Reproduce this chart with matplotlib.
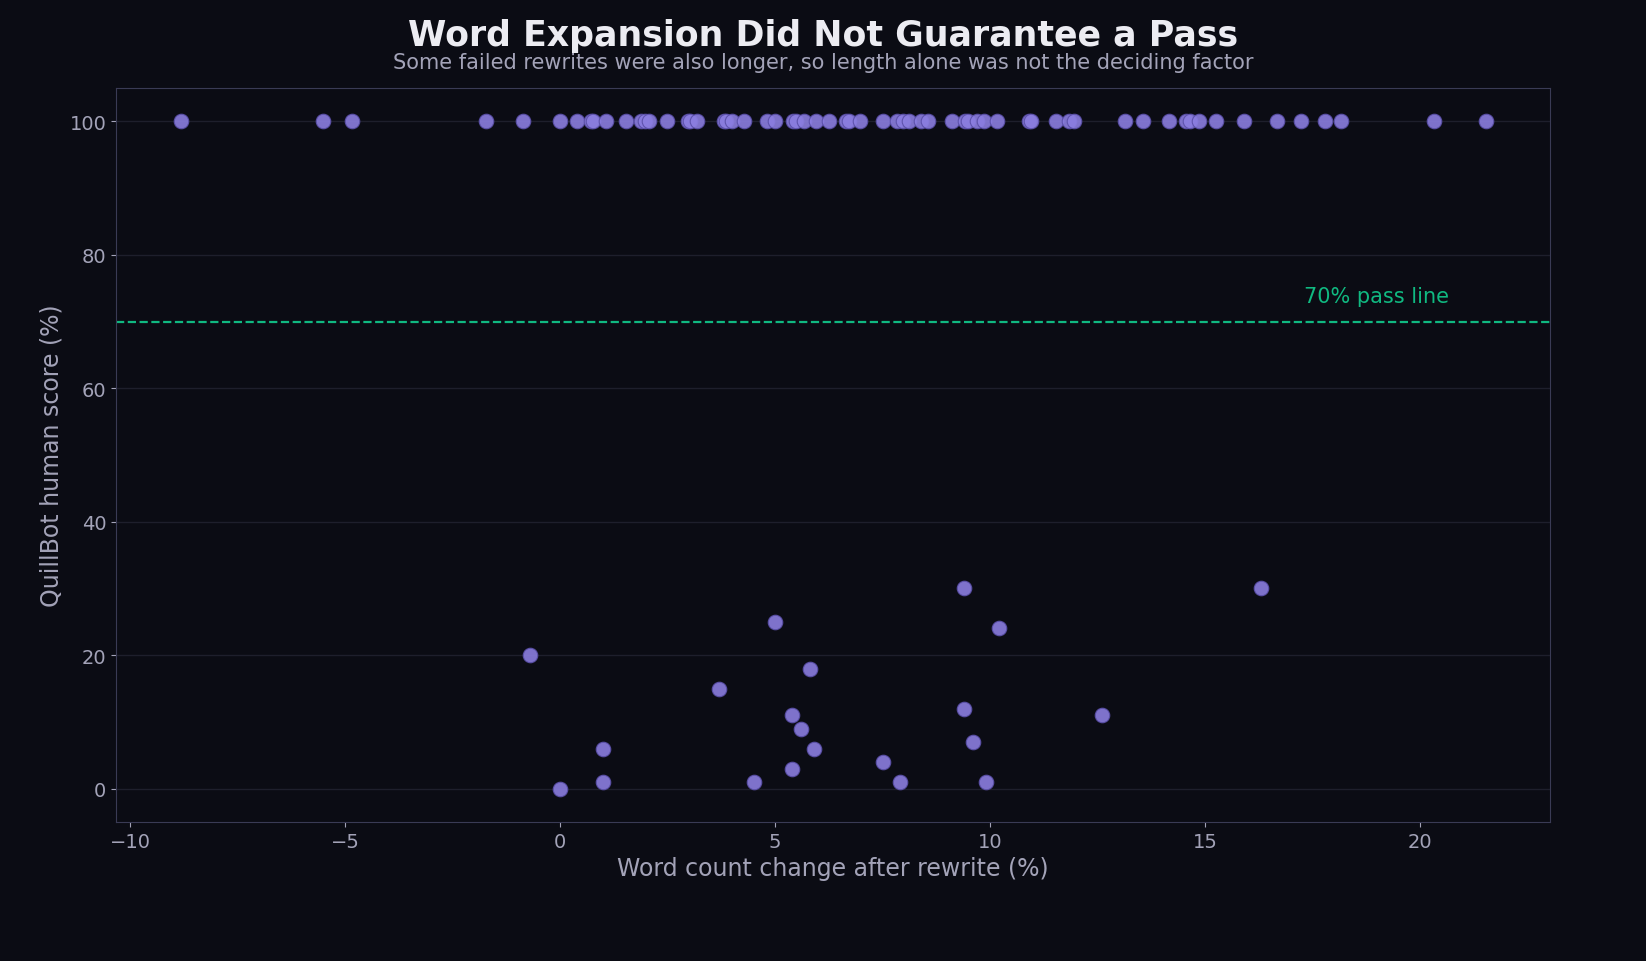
import numpy as np
import matplotlib.pyplot as plt

# Top row pixel positions, converted to data units
pass_px = [181, 323, 352, 486, 523, 560, 577, 591, 593, 606, 626, 641, 645, 649, 667,
           688, 690, 697, 724, 726, 732, 744, 767, 775, 793, 796, 804, 816, 829, 846,
           849, 860, 883, 897, 903, 909, 921, 928, 952, 965, 968, 977, 984, 997, 1029,
           1031, 1056, 1069, 1074, 1125, 1143, 1169, 1186, 1190, 1199, 1216, 1244, 1277,
           1301, 1325, 1341, 1434, 1486]
pass_x = [round((p - 560) / 43, 2) for p in pass_px]
pass_y = [100] * len(pass_x)

fail_x = [-0.7, 0.0, 1.0, 1.0, 3.7, 4.5, 5.0, 5.4, 5.4, 5.6, 5.8, 5.9, 7.5, 7.9,
          9.4, 9.4, 9.6, 9.9, 10.2, 12.6, 16.3]
fail_y = [20, 0, 6, 1, 15, 1, 25, 11, 3, 9, 18, 6, 4, 1, 30, 12, 7, 1, 24, 11, 30]

x = pass_x + fail_x
y = pass_y + fail_y

bg = '#0b0c14'
fig = plt.figure(figsize=(16.46, 9.62), dpi=100, facecolor=bg)
ax = fig.add_axes([116/1646, 1 - 823/962, (1550-116)/1646, (823-89)/962])
ax.set_facecolor(bg)

ax.scatter(x, y, s=110, color='#8b7ee0', edgecolor='#5a4fa8', linewidth=0.8,
           alpha=0.9, zorder=3)
ax.axhline(70, color='#10b981', ls='--', lw=1.6, zorder=2)
ax.text(17.3, 73, '70% pass line', color='#10b981', fontsize=15)

ax.set_xlim(-10.33, 23.02)
ax.set_ylim(-5, 105)
ax.set_yticks([0, 20, 40, 60, 80, 100])
ax.grid(axis='y', color='#1e1f2c', lw=1)
ax.set_axisbelow(True)
for s in ax.spines.values():
    s.set_color('#3a3b55')
ax.tick_params(colors='#a3a3b8', labelsize=14)
ax.set_xlabel('Word count change after rewrite (%)', color='#a3a3b8', fontsize=17)
ax.set_ylabel('QuillBot human score (%)', color='#a3a3b8', fontsize=17)

fig.text(0.5, 0.963, 'Word Expansion Did Not Guarantee a Pass', ha='center',
         va='center', color='#ececf2', fontsize=25, fontweight='bold')
fig.text(0.5, 0.934, 'Some failed rewrites were also longer, so length alone was not the deciding factor',
         ha='center', va='center', color='#a3a3b8', fontsize=15)

fig.savefig('out.png', dpi=100, facecolor=bg)
